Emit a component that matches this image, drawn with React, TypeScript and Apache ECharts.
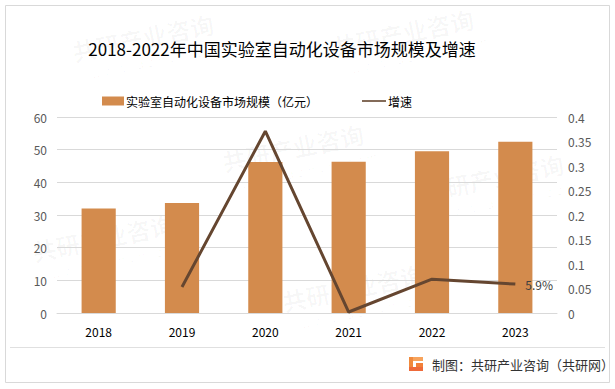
import React, { useEffect, useRef } from "react";
import * as echarts from "echarts";

const years = ["2018", "2019", "2020", "2021", "2022", "2023"];
const marketSize = [32.0, 33.7, 46.2, 46.3, 49.5, 52.4];
const growth = [null, 0.053, 0.371, 0.002, 0.069, 0.059];
const lastGrowthLabel = "5.9%";
const barName = "实验室自动化设备市场规模（亿元）";
const lineName = "增速";
const titleText = "2018-2022年中国实验室自动化设备市场规模及增速";
const sourceText = "制图：共研产业咨询（共研网）";

export default function App() {
  const ref = useRef<HTMLDivElement>(null);
  useEffect(() => {
    if (!ref.current) return;
    const chart = echarts.init(ref.current, undefined, { renderer: "svg" });
    const font = "'Microsoft YaHei','Noto Sans CJK SC',sans-serif";
    const wm = [] as any[];
    const wmPos = [
      [70, 40], [330, 35], [220, 150], [420, 180], [30, 240], [280, 290],
    ];
    wmPos.forEach(([x, y]) => {
      wm.push({
        type: "text", x, y, rotation: 0.2, silent: true, z: 0,
        style: { text: "共研产业咨询", font: "bold 24px " + font, fill: "rgba(0,0,0,0.03)" },
      });
      wm.push({
        type: "text", x: x + 20, y: y + 28, rotation: 0.2, silent: true, z: 0,
        style: { text: "w w w . g o n y n . c o m", font: "13px sans-serif", fill: "rgba(0,0,0,0.03)" },
      });
    });
    const legendText = { fontSize: 12, color: "#000", padding: [0, 0, 0, -3] };
    chart.setOption({
      animation: false,
      backgroundColor: "#ffffff",
      textStyle: { fontFamily: font },
      title: {
        text: titleText,
        left: 277, top: 35, textAlign: "center",
        textStyle: { fontSize: 17, fontWeight: "normal", color: "#000", fontFamily: font },
      },
      legend: [
        {
          top: 90, left: 97, itemWidth: 22, itemHeight: 9,
          textStyle: legendText,
          data: [{ name: barName, icon: "rect" }],
        },
        {
          top: 90, left: 357, itemWidth: 24, itemHeight: 9,
          textStyle: legendText,
          data: [{ name: lineName, icon: "path://M0,4L30,4L30,6L0,6Z", itemStyle: { color: "#654630" } }],
        },
      ],
      grid: { left: 57, right: 58, top: 117, bottom: 76 },
      xAxis: {
        type: "category", data: years,
        axisLine: { show: true, lineStyle: { color: "#d9d9d9" } },
        axisTick: { show: false },
        axisLabel: { color: "#000", fontSize: 12, margin: 12 },
      },
      yAxis: [
        {
          type: "value", min: 0, max: 60, interval: 10,
          axisLine: { show: false }, axisTick: { show: false },
          axisLabel: { color: "#595959", fontSize: 12, margin: 10 },
          splitLine: { lineStyle: { color: "#d9d9d9" } },
        },
        {
          type: "value", min: 0, max: 0.4, interval: 0.05,
          axisLine: { show: false }, axisTick: { show: false },
          axisLabel: { color: "#595959", fontSize: 12, margin: 11 },
          splitLine: { show: false },
        },
      ],
      series: [
        {
          name: barName, type: "bar", data: marketSize, barWidth: "41%",
          itemStyle: { color: "#D38B4D" }, z: 2,
        },
        {
          name: lineName, type: "line", yAxisIndex: 1, data: growth,
          showSymbol: false, symbol: "none", connectNulls: false,
          lineStyle: { color: "#654630", width: 3 },
          itemStyle: { color: "#654630" }, z: 3,
          endLabel: {
            show: true, distance: 10, fontSize: 12, color: "#404040",
            formatter: () => lastGrowthLabel,
          },
        },
      ],
      graphic: [
        ...wm,
        {
          type: "rect", silent: true, z: -1,
          shape: { x: 5.5, y: 5.5, width: 604, height: 377 },
          style: { fill: "none", stroke: "#d9d9d9", lineWidth: 1 },
        },
        {
          type: "line", silent: true,
          shape: { x1: 10, y1: 347.5, x2: 605, y2: 347.5 },
          style: { stroke: "#e0e0e0", lineWidth: 1 },
        },
        {
          type: "group", x: 409, y: 357,
          children: [
            { type: "rect", shape: { x: 0, y: 0, width: 14, height: 4 },
              style: { fill: "#F7A35C" } },
            { type: "rect", shape: { x: 0, y: 0, width: 4, height: 13 },
              style: { fill: "#F08A3C" } },
            { type: "rect", shape: { x: 0, y: 10, width: 14, height: 4 },
              style: { fill: "#EE6A3A" } },
            { type: "rect", shape: { x: 7, y: 6, width: 7, height: 4 },
              style: { fill: "#F2803A" } },
          ],
        },
        {
          type: "text", x: 432, y: 364,
          style: {
            text: sourceText, font: "13px " + font, fill: "#333",
            verticalAlign: "middle",
          },
        },
      ],
    });
    return () => chart.dispose();
  }, []);
  return (
    <div
      ref={ref}
      style={{ position: "fixed", left: 0, top: 0, width: 615, height: 389 }}
    />
  );
}
